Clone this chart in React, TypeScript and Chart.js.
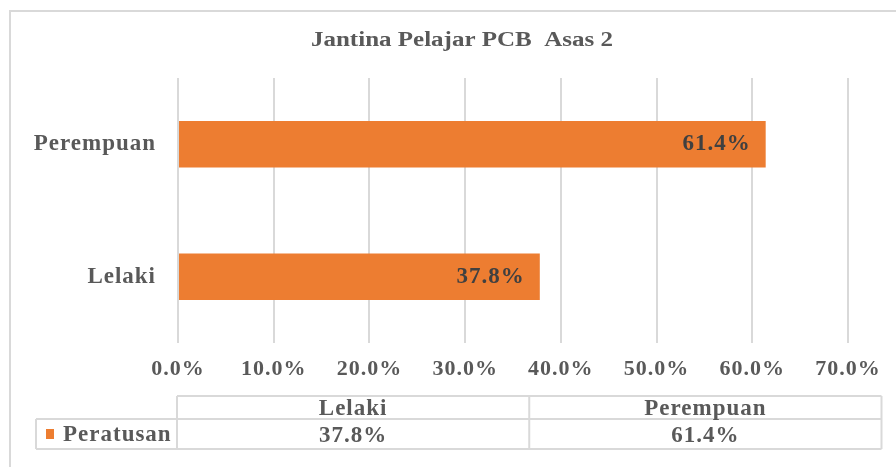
import React, { useEffect, useRef } from 'react';
import { Chart, registerables } from 'chart.js';

Chart.register(...registerables);

const TITLE = 'Jantina Pelajar PCB  Asas 2';
const CATEGORIES = ['Lelaki', 'Perempuan'];
const SERIES_NAME = 'Peratusan';
const VALUES = [37.8, 61.4];
const X_MIN = 0;
const X_MAX = 70;
const X_STEP = 10;

const ORANGE = '#ED7D31';
const GRID = '#d9d9d9';
const TEXT = '#595959';
const LABEL_DARK = '#404040';
const FONT = "'Liberation Serif', 'Times New Roman', serif";
const fmt = (v: number) => v.toFixed(1) + '%';

const W = 896;
const H = 467;

const framePlugin = {
  id: 'frame',
  beforeDraw(chart: any) {
    const ctx = chart.ctx as any;
    ctx.save();
    ctx.letterSpacing = '0px';
    ctx.fillStyle = '#ffffff';
    ctx.fillRect(0, 0, chart.width, chart.height);
    ctx.strokeStyle = GRID;
    ctx.lineWidth = 2;
    ctx.strokeRect(10, 11, chart.width + 20, chart.height + 20);
    ctx.font = `bold 20px ${FONT}`;
    ctx.fillStyle = TEXT;
    ctx.textAlign = 'center';
    ctx.textBaseline = 'alphabetic';
    ctx.translate(462, 46);
    ctx.scale(1.25, 1);
    ctx.fillText(TITLE, 0, 0);
    ctx.restore();
    ctx.letterSpacing = '1px';
  },
  afterDatasetsDraw(chart: any) {
    const ctx = chart.ctx as any;
    const meta = chart.getDatasetMeta(0);
    ctx.save();
    ctx.letterSpacing = '1px';
    ctx.font = `bold 23px ${FONT}`;
    ctx.fillStyle = LABEL_DARK;
    ctx.textAlign = 'right';
    ctx.textBaseline = 'middle';
    meta.data.forEach((bar: any, i: number) => {
      const v = chart.data.datasets[0].data[i] as number;
      ctx.fillText(fmt(v), bar.x - 15, bar.y);
    });
    ctx.restore();
  },
  afterDraw(chart: any) {
    const ctx = chart.ctx as any;
    const ca = chart.chartArea;
    const left = ca.left - 1;
    const right = ca.left + (ca.right - ca.left) * 1.05;
    const legLeft = 36;
    const y0 = ca.bottom + 53;
    const y1 = ca.bottom + 76;
    const y2 = ca.bottom + 106;
    const colW = (right - left) / CATEGORIES.length;
    ctx.save();
    ctx.letterSpacing = '1px';
    ctx.strokeStyle = GRID;
    ctx.lineWidth = 2;
    ctx.beginPath();
    ctx.moveTo(left, y0); ctx.lineTo(right, y0);
    ctx.moveTo(legLeft, y1); ctx.lineTo(right, y1);
    ctx.moveTo(legLeft, y2); ctx.lineTo(right, y2);
    ctx.moveTo(legLeft, y1); ctx.lineTo(legLeft, y2);
    for (let i = 0; i <= CATEGORIES.length; i++) {
      const x = left + colW * i;
      ctx.moveTo(x, y0); ctx.lineTo(x, y2);
    }
    ctx.stroke();

    ctx.font = `bold 23px ${FONT}`;
    ctx.fillStyle = TEXT;
    ctx.textAlign = 'center';
    ctx.textBaseline = 'alphabetic';
    CATEGORIES.forEach((c, i) => {
      const cx = left + colW * (i + 0.5);
      ctx.fillText(c, cx, y0 + 19);
      ctx.fillText(fmt(VALUES[i]), cx, y1 + 23);
    });
    ctx.fillStyle = ORANGE;
    ctx.fillRect(46, y1 + 10, 8, 10);
    ctx.fillStyle = TEXT;
    ctx.textAlign = 'left';
    ctx.fillText(SERIES_NAME, 63, y1 + 22);
    ctx.restore();
  },
};

export default function App() {
  const ref = useRef<HTMLCanvasElement | null>(null);
  useEffect(() => {
    if (!ref.current) return;
    const chart = new Chart(ref.current, {
      type: 'bar',
      data: {
        labels: CATEGORIES,
        datasets: [
          {
            label: SERIES_NAME,
            data: VALUES,
            backgroundColor: ORANGE,
            borderWidth: 0,
            categoryPercentage: 1,
            barPercentage: 0.35,
          },
        ],
      },
      options: {
        indexAxis: 'y',
        animation: false,
        responsive: true,
        maintainAspectRatio: false,
        layout: { padding: { top: 78, left: 0, right: 48, bottom: 0 } },
        plugins: {
          legend: { display: false },
          title: { display: false },
          tooltip: { enabled: false },
        },
        scales: {
          x: {
            min: X_MIN,
            max: X_MAX,
            ticks: {
              stepSize: X_STEP,
              padding: 13,
              color: TEXT,
              font: { family: FONT, size: 22, weight: 'bold' },
              callback: (v: any) => fmt(Number(v)),
            },
            grid: { color: GRID, lineWidth: 2, drawTicks: false },
            border: { display: false },
            afterFit: (s: any) => { s.height = 124; },
          },
          y: {
            reverse: true,
            ticks: {
              padding: 22,
              color: TEXT,
              font: { family: FONT, size: 23, weight: 'bold' },
            },
            grid: { display: false, drawTicks: false },
            border: { display: false },
            afterFit: (s: any) => { s.width = 178; },
          },
        },
      },
      plugins: [framePlugin],
    });
    return () => chart.destroy();
  }, []);
  return (
    <div style={{ position: 'fixed', left: 0, top: 0, width: W, height: H }}>
      <canvas ref={ref} />
    </div>
  );
}
